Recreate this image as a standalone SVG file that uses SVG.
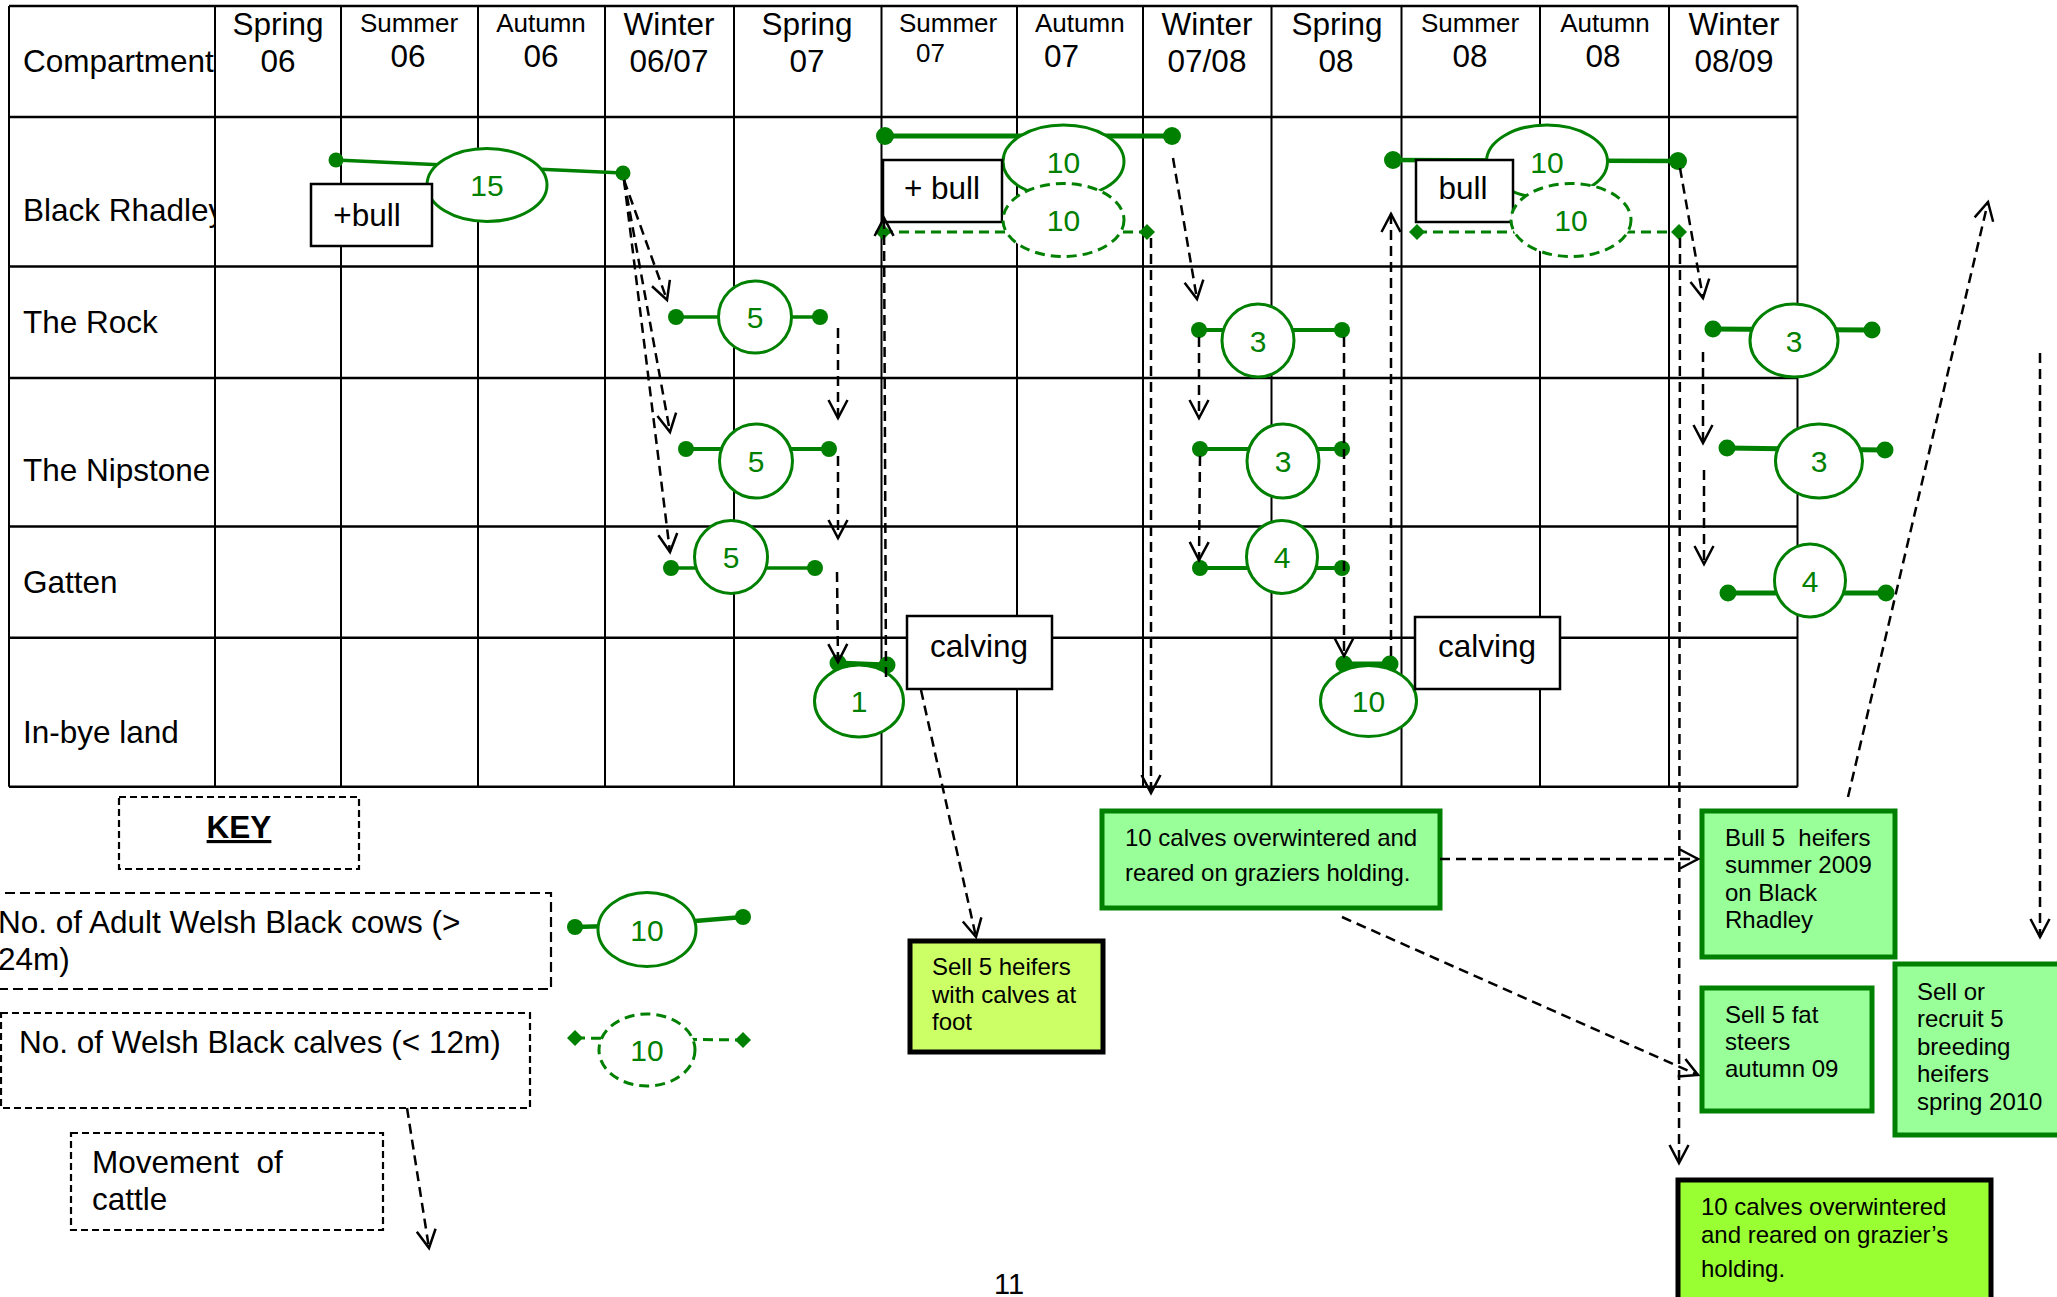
<svg xmlns="http://www.w3.org/2000/svg" width="2057" height="1297" viewBox="0 0 2057 1297">
<style>
text{font-family:"Liberation Sans",Arial,sans-serif;fill:#000}
.t{font-size:31.5px}
.hs{font-size:26px}
.c{text-anchor:middle}
.g{fill:#008000;font-size:30px;text-anchor:middle}
.gl{stroke:#008000;fill:none}
.el{fill:#fff;stroke:#008000;stroke-width:3}
.eld{fill:#fff;stroke:#008000;stroke-width:3;stroke-dasharray:10 6}
.dot{fill:#008000}
.gd{stroke:#008000;stroke-width:3;stroke-dasharray:10 6;fill:none}
.box{fill:#fff;stroke:#000;stroke-width:2.5}
.mv{stroke:#000;stroke-width:2.5;stroke-dasharray:10 6;fill:none;marker-end:url(#ah)}
.kb{fill:none;stroke:#000;stroke-width:2.2;stroke-dasharray:7 4}
.bt{font-size:24px}
.hl{stroke:#000;stroke-width:2.5}
.vl{stroke:#000;stroke-width:2}
.gb{fill:#99ff99;stroke:#008000;stroke-width:5}
</style>
<defs>
<marker id="ah" markerUnits="userSpaceOnUse" markerWidth="30" markerHeight="30" viewBox="-22 -15 30 30" refX="0" refY="0" orient="auto" overflow="visible">
<path d="M-18,-9.5 L0,0 L-18,9.5" fill="none" stroke="#000" stroke-width="2.5" stroke-dasharray="none"/>
</marker>
<clipPath id="col1"><rect x="0" y="0" width="214" height="800"/></clipPath>
</defs>

<g id="table">
<line class="hl" x1="9" y1="6" x2="1797.5" y2="6"/>
<line class="hl" x1="9" y1="117" x2="1797.5" y2="117"/>
<line class="hl" x1="9" y1="266.5" x2="1797.5" y2="266.5"/>
<line class="hl" x1="9" y1="378" x2="1797.5" y2="378"/>
<line class="hl" x1="9" y1="526.5" x2="1797.5" y2="526.5"/>
<line class="hl" x1="9" y1="637.7" x2="1797.5" y2="637.7"/>
<line class="hl" x1="9" y1="786.7" x2="1797.5" y2="786.7"/>
<line class="vl" x1="9" y1="6" x2="9" y2="786.7"/>
<line class="vl" x1="215" y1="6" x2="215" y2="786.7"/>
<line class="vl" x1="341" y1="6" x2="341" y2="786.7"/>
<line class="vl" x1="478" y1="6" x2="478" y2="786.7"/>
<line class="vl" x1="605" y1="6" x2="605" y2="786.7"/>
<line class="vl" x1="734" y1="6" x2="734" y2="786.7"/>
<line class="vl" x1="881.5" y1="6" x2="881.5" y2="786.7"/>
<line class="vl" x1="1017" y1="6" x2="1017" y2="786.7"/>
<line class="vl" x1="1143" y1="6" x2="1143" y2="786.7"/>
<line class="vl" x1="1271.5" y1="6" x2="1271.5" y2="786.7"/>
<line class="vl" x1="1401.5" y1="6" x2="1401.5" y2="786.7"/>
<line class="vl" x1="1540" y1="6" x2="1540" y2="786.7"/>
<line class="vl" x1="1669" y1="6" x2="1669" y2="786.7"/>
<line class="vl" x1="1797.5" y1="6" x2="1797.5" y2="786.7"/>
<g clip-path="url(#col1)">
<text class="t" x="23" y="72">Compartment</text>
<text class="t" x="23" y="221">Black Rhadley</text>
<text class="t" x="23" y="333">The Rock</text>
<text class="t" x="23" y="481">The Nipstone</text>
<text class="t" x="23" y="593">Gatten</text>
<text class="t" x="23" y="743">In-bye land</text>
</g>
<text class="t c" x="278" y="35">Spring</text><text class="t c" x="278" y="72">06</text>
<text class="hs c" x="409" y="32">Summer</text><text class="t c" x="408" y="67">06</text>
<text class="hs c" x="541" y="32">Autumn</text><text class="t c" x="541" y="67">06</text>
<text class="t c" x="669" y="35">Winter</text><text class="t c" x="669" y="72">06/07</text>
<text class="t c" x="807" y="35">Spring</text><text class="t c" x="807" y="72">07</text>
<text class="hs" x="899" y="32">Summer</text><text class="hs" x="916" y="62">07</text>
<text class="hs" x="1035" y="32">Autumn</text><text class="t" x="1044" y="67">07</text>
<text class="t c" x="1207" y="35">Winter</text><text class="t c" x="1207" y="72">07/08</text>
<text class="t c" x="1337" y="35">Spring</text><text class="t c" x="1336" y="72">08</text>
<text class="hs c" x="1470" y="32">Summer</text><text class="t c" x="1470" y="67">08</text>
<text class="hs c" x="1605" y="32">Autumn</text><text class="t c" x="1603" y="67">08</text>
<text class="t c" x="1734" y="35">Winter</text><text class="t c" x="1734" y="72">08/09</text>
</g>

<g id="br-15">
<line class="gl" x1="336" y1="160" x2="623" y2="173" stroke-width="3.5"/>
<circle class="dot" cx="336" cy="160" r="7.5"/><circle class="dot" cx="623" cy="173" r="7.5"/>
<ellipse class="el" cx="487" cy="185" rx="60" ry="36.5"/>
<text class="g" x="487" y="196">15</text>
</g>
<g id="br-bull1">
<rect class="box" x="311" y="184" width="121" height="62"/>
<text class="t c" x="367" y="226">+bull</text>
</g>

<g id="br-summer07">
<line class="gl" x1="885" y1="136" x2="1172" y2="136" stroke-width="5"/>
<circle class="dot" cx="885" cy="136" r="9"/><circle class="dot" cx="1172" cy="136" r="9"/>
<ellipse class="el" cx="1063.5" cy="161.5" rx="60.5" ry="36.5"/>
<text class="g" x="1063.5" y="173">10</text>
<rect class="box" x="883" y="160" width="119" height="62"/>
<text class="t c" x="942" y="199">+ bull</text>
<line class="gd" x1="883" y1="232" x2="1147" y2="232"/>
<polygon class="dot" points="875,232 883,224 891,232 883,240"/>
<polygon class="dot" points="1139,232 1147,224 1155,232 1147,240"/>
<ellipse class="eld" cx="1063.5" cy="220" rx="60.5" ry="36.5"/>
<text class="g" x="1063.5" y="231">10</text>
</g>

<g id="br-summer08">
<line class="gl" x1="1393" y1="160" x2="1678" y2="161" stroke-width="4.5"/>
<circle class="dot" cx="1393" cy="160" r="9"/><circle class="dot" cx="1678" cy="161" r="9"/>
<ellipse class="el" cx="1547" cy="161.5" rx="60.5" ry="36.5"/>
<text class="g" x="1547" y="173">10</text>
<rect class="box" x="1416" y="160" width="97" height="62"/>
<text class="t c" x="1463" y="199">bull</text>
<line class="gd" x1="1417" y1="232" x2="1679" y2="232"/>
<polygon class="dot" points="1409,232 1417,224 1425,232 1417,240"/>
<polygon class="dot" points="1671,232 1679,224 1687,232 1679,240"/>
<ellipse class="eld" cx="1571" cy="220" rx="60" ry="36.5"/>
<text class="g" x="1571" y="231">10</text>
</g>

<g id="rock-5">
<line class="gl" x1="676" y1="317" x2="820" y2="317" stroke-width="3.5"/>
<circle class="dot" cx="676" cy="317" r="8"/><circle class="dot" cx="820" cy="317" r="8"/>
<ellipse class="el" cx="755" cy="317" rx="36.5" ry="36"/>
<text class="g" x="755" y="328">5</text>
</g>
<g id="rock-3a">
<line class="gl" x1="1199" y1="330" x2="1342" y2="330" stroke-width="4"/>
<circle class="dot" cx="1199" cy="330" r="8"/><circle class="dot" cx="1342" cy="330" r="8"/>
<ellipse class="el" cx="1258" cy="340.5" rx="36" ry="36.5"/>
<text class="g" x="1258" y="352">3</text>
</g>
<g id="rock-3b">
<line class="gl" x1="1713" y1="329" x2="1872" y2="330" stroke-width="5"/>
<circle class="dot" cx="1713" cy="329" r="8.5"/><circle class="dot" cx="1872" cy="330" r="8.5"/>
<ellipse class="el" cx="1794" cy="340.5" rx="44" ry="36.5"/>
<text class="g" x="1794" y="352">3</text>
</g>

<g id="nip-5">
<line class="gl" x1="686" y1="449" x2="829" y2="449" stroke-width="4"/>
<circle class="dot" cx="686" cy="449" r="8"/><circle class="dot" cx="829" cy="449" r="8"/>
<ellipse class="el" cx="756" cy="461" rx="36.5" ry="37"/>
<text class="g" x="756" y="472">5</text>
</g>
<g id="nip-3a">
<line class="gl" x1="1200" y1="449" x2="1342" y2="449" stroke-width="4"/>
<circle class="dot" cx="1200" cy="449" r="8"/><circle class="dot" cx="1342" cy="449" r="8"/>
<ellipse class="el" cx="1283" cy="461" rx="36" ry="37"/>
<text class="g" x="1283" y="472">3</text>
</g>
<g id="nip-3b">
<line class="gl" x1="1727" y1="448" x2="1885" y2="450" stroke-width="5"/>
<circle class="dot" cx="1727" cy="448" r="8.5"/><circle class="dot" cx="1885" cy="450" r="8.5"/>
<ellipse class="el" cx="1819" cy="461" rx="43.5" ry="37"/>
<text class="g" x="1819" y="472">3</text>
</g>

<g id="gat-5">
<line class="gl" x1="671" y1="568" x2="815" y2="568" stroke-width="3.5"/>
<circle class="dot" cx="671" cy="568" r="8"/><circle class="dot" cx="815" cy="568" r="8"/>
<ellipse class="el" cx="731" cy="557" rx="36.5" ry="36.5"/>
<text class="g" x="731" y="568">5</text>
</g>
<g id="gat-4a">
<line class="gl" x1="1200" y1="568" x2="1342" y2="568" stroke-width="4"/>
<circle class="dot" cx="1200" cy="568" r="8"/><circle class="dot" cx="1342" cy="568" r="8"/>
<ellipse class="el" cx="1282" cy="557" rx="35.5" ry="36.5"/>
<text class="g" x="1282" y="568">4</text>
</g>
<g id="gat-4b">
<line class="gl" x1="1728" y1="593" x2="1886" y2="593" stroke-width="5"/>
<circle class="dot" cx="1728" cy="593" r="8.5"/><circle class="dot" cx="1886" cy="593" r="8.5"/>
<ellipse class="el" cx="1810" cy="580.5" rx="35.5" ry="36.5"/>
<text class="g" x="1810" y="592">4</text>
</g>

<g id="inbye-1">
<line class="gl" x1="838" y1="663" x2="887" y2="665" stroke-width="5"/>
<circle class="dot" cx="838" cy="663" r="8.5"/><circle class="dot" cx="887" cy="665" r="8.5"/>
<ellipse class="el" cx="859" cy="701" rx="44.5" ry="36"/>
<text class="g" x="859" y="712">1</text>
</g>
<g id="inbye-10">
<line class="gl" x1="1344" y1="664" x2="1390" y2="664" stroke-width="5"/>
<circle class="dot" cx="1344" cy="664" r="8.5"/><circle class="dot" cx="1390" cy="664" r="8.5"/>
<ellipse class="el" cx="1368.5" cy="701" rx="48" ry="35.5"/>
<text class="g" x="1368.5" y="712">10</text>
</g>

<g id="calving1">
<rect class="box" x="907" y="616" width="145" height="73"/>
<text class="t c" x="979" y="657">calving</text>
</g>
<g id="calving2">
<rect class="box" x="1415" y="617" width="145" height="72"/>
<text class="t c" x="1487" y="657">calving</text>
</g>

<g id="box-sell-heifers">
<rect x="910" y="941" width="193" height="111" fill="#ccff66" stroke="#000" stroke-width="5"/>
<text class="bt" x="932" y="975">Sell 5 heifers</text>
<text class="bt" x="932" y="1003">with calves at</text>
<text class="bt" x="932" y="1030">foot</text>
</g>
<g id="box-overwinter1">
<rect class="gb" x="1102" y="811" width="338" height="97"/>
<text class="bt" x="1125" y="846">10 calves overwintered and</text>
<text class="bt" x="1125" y="881">reared on graziers holding.</text>
</g>
<g id="box-bull-heifers">
<rect class="gb" x="1702" y="811" width="193" height="146"/>
<text class="bt" x="1725" y="846" xml:space="preserve">Bull 5  heifers</text>
<text class="bt" x="1725" y="873">summer 2009</text>
<text class="bt" x="1725" y="901">on Black</text>
<text class="bt" x="1725" y="928">Rhadley</text>
</g>
<g id="box-sell-steers">
<rect class="gb" x="1702" y="988" width="170" height="123"/>
<text class="bt" x="1725" y="1023">Sell 5 fat</text>
<text class="bt" x="1725" y="1050">steers</text>
<text class="bt" x="1725" y="1077">autumn 09</text>
</g>
<g id="box-sell-recruit">
<rect class="gb" x="1895" y="964" width="175" height="171"/>
<text class="bt" x="1917" y="1000">Sell or</text>
<text class="bt" x="1917" y="1027">recruit 5</text>
<text class="bt" x="1917" y="1055">breeding</text>
<text class="bt" x="1917" y="1082">heifers</text>
<text class="bt" x="1917" y="1110">spring 2010</text>
</g>
<g id="box-overwinter2">
<rect x="1678" y="1180" width="313" height="130" fill="#99ff33" stroke="#000" stroke-width="5"/>
<text class="bt" x="1701" y="1215">10 calves overwintered</text>
<text class="bt" x="1701" y="1243">and reared on grazier’s</text>
<text class="bt" x="1701" y="1277">holding.</text>
</g>

<g id="key">
<rect class="kb" x="119" y="797" width="240" height="72"/>
<text x="239" y="838" text-anchor="middle" font-size="31.5" font-weight="bold" text-decoration="underline">KEY</text>
<rect x="-10" y="893" width="561" height="96" fill="none" stroke="#000" stroke-width="2.2" stroke-dasharray="10 5"/>
<text class="t" x="-2" y="933">No. of Adult Welsh Black cows (&gt;</text>
<text class="t" x="-2" y="970">24m)</text>
<polyline class="gl" points="575,927 647,925 743,917" stroke-width="4.5"/>
<circle class="dot" cx="575" cy="927" r="8"/><circle class="dot" cx="743" cy="917" r="8"/>
<ellipse class="el" cx="647" cy="929.5" rx="49" ry="37" stroke-width="4"/>
<text class="g" x="647" y="941">10</text>
<rect class="kb" x="1" y="1013" width="529" height="95"/>
<text class="t" x="19" y="1053">No. of Welsh Black calves (&lt; 12m)</text>
<line class="gd" x1="575" y1="1038" x2="743" y2="1040"/>
<polygon class="dot" points="567,1038 575,1030 583,1038 575,1046"/>
<polygon class="dot" points="735,1040 743,1032 751,1040 743,1048"/>
<ellipse class="eld" cx="647" cy="1050" rx="48" ry="36"/>
<text class="g" x="647" y="1061">10</text>
<rect class="kb" x="71" y="1133" width="312" height="97"/>
<text class="t" x="92" y="1173" xml:space="preserve">Movement  of</text>
<text class="t" x="92" y="1210">cattle</text>
</g>

<text x="1009" y="1294" text-anchor="middle" font-size="29">11</text>

<g id="connectors">
<line class="mv" x1="624" y1="180" x2="667" y2="300"/>
<line class="mv" x1="624" y1="180" x2="670" y2="432"/>
<line class="mv" x1="624" y1="180" x2="670" y2="552"/>
<line class="mv" x1="838" y1="328" x2="838" y2="418"/>
<line class="mv" x1="838" y1="456" x2="838" y2="538"/>
<line class="mv" x1="837" y1="572" x2="838" y2="662"/>
<line class="mv" x1="886" y1="677" x2="884" y2="218"/>
<line class="mv" x1="1173" y1="158" x2="1197" y2="299"/>
<line class="mv" x1="1199" y1="337" x2="1199" y2="418"/>
<line class="mv" x1="1200" y1="456" x2="1199" y2="560"/>
<line class="mv" x1="1344" y1="337" x2="1344" y2="656"/>
<line class="mv" x1="1391" y1="656" x2="1391" y2="214"/>
<line class="mv" x1="1151" y1="238" x2="1151" y2="793"/>
<line class="mv" x1="1680" y1="168" x2="1703" y2="298"/>
<line class="mv" x1="1703" y1="352" x2="1703" y2="443"/>
<line class="mv" x1="1704" y1="470" x2="1704" y2="564"/>
<line class="mv" x1="1680" y1="238" x2="1679" y2="1163"/>
<line class="mv" x1="921" y1="690" x2="976" y2="937"/>
<line class="mv" x1="1440" y1="859" x2="1698" y2="859"/>
<line class="mv" x1="1342" y1="917" x2="1698" y2="1075"/>
<line class="mv" x1="1848" y1="797" x2="1988" y2="202"/>
<line class="mv" x1="2040" y1="353" x2="2040" y2="937"/>
<line class="mv" x1="407" y1="1108" x2="429" y2="1248"/>
</g>
</svg>
